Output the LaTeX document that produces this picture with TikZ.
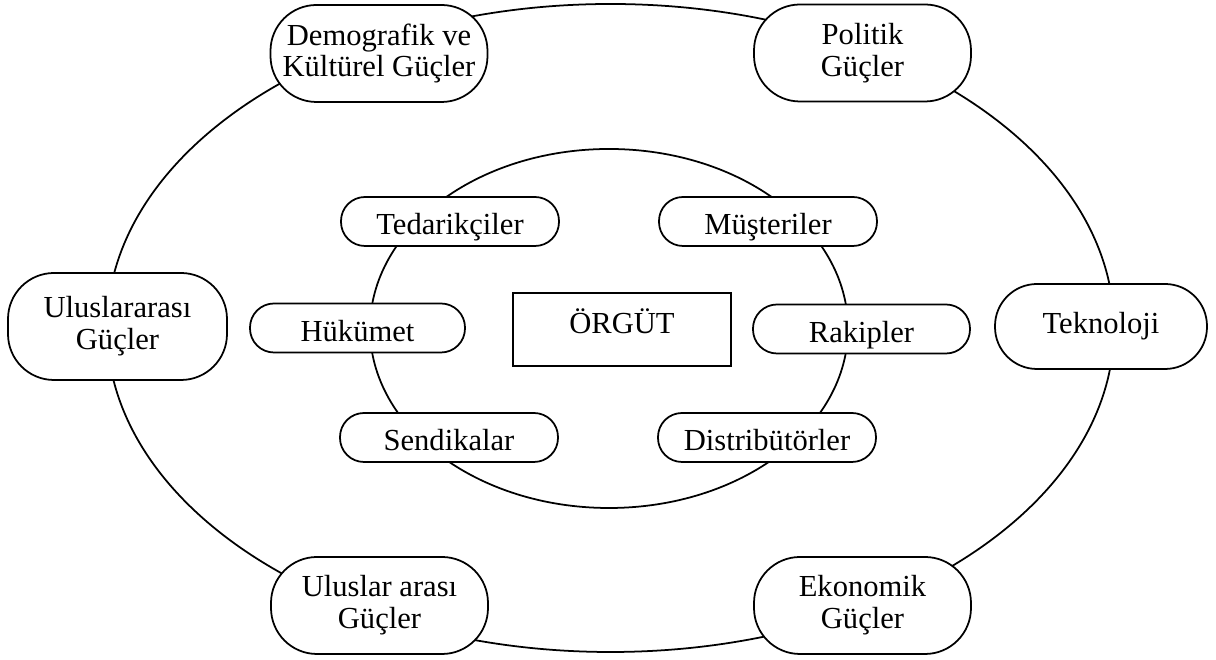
\documentclass[tikz,border=0pt]{standalone}
\usepackage{fontspec}
\setmainfont{Liberation Serif}
\usetikzlibrary{positioning,shapes}

\begin{document}
\begin{tikzpicture}[ring/.style={draw, ellipse, inner sep = 0pt, line width = 1pt},
  force/.style={draw, fill = white, rounded corners = 0.92cm, align = center, inner sep = 2pt, line width = 1pt, minimum width = 4.34cm, minimum height = 1.94cm},
  actor/.style={draw, fill = white, rounded corners = 0.48cm, inner sep = 2pt, line width = 1pt, minimum width = 4.36cm, minimum height = 0.98cm, text height = 0.6cm, text depth = 0.06cm},
  font = \fontsize{17.4}{18.1}\selectfont]
\useasboundingbox (0,0) rectangle (24.32,13.2);
\node[ring, minimum width = 20.14cm, minimum height = 12.96cm] (outer) at (12.21,6.64) {};
\node[ring, minimum width = 9.56cm, minimum height = 7.18cm] (inner) at (12.18,6.63) {};
\node[force] (demo) at (7.58,12.13) {Demografik ve\\Kültürel Güçler};
\node[force] (polit) at (17.25,12.14) {Politik\\Güçler};
\node[force, minimum width = 4.38cm, minimum height = 2.14cm] (ulus) at (2.35,6.67) {Uluslararası\\Güçler};
\node[force, minimum width = 4.24cm, minimum height = 1.7cm, rounded corners = 0.84cm] (tekno) at (22.02,6.67) {Teknoloji};
\node[force] (ulusar) at (7.59,1.09) {Uluslar arası\\Güçler};
\node[force] (ekon) at (17.25,1.09) {Ekonomik\\Güçler};
\node[actor] (tedar) at (9.0,8.77) {Tedarikçiler};
\node[actor] (muster) at (15.36,8.77) {Müşteriler};
\node[actor, minimum width = 4.3cm] (hukum) at (7.15,6.64) {Hükümet};
\node[actor, minimum width = 4.34cm] (rakip) at (17.23,6.62) {Rakipler};
\node[actor] (sendik) at (8.98,4.45) {Sendikalar};
\node[actor] (distrib) at (15.34,4.45) {Distribütörler};
\node[draw, fill = white, line width = 1.3pt, inner sep = 2pt, minimum width = 4.36cm, minimum height = 1.46cm, text height = 0.5cm, text depth = 0.32cm] (orgut) at (12.44,6.61) {ÖRGÜT};
\end{tikzpicture}
\end{document}
